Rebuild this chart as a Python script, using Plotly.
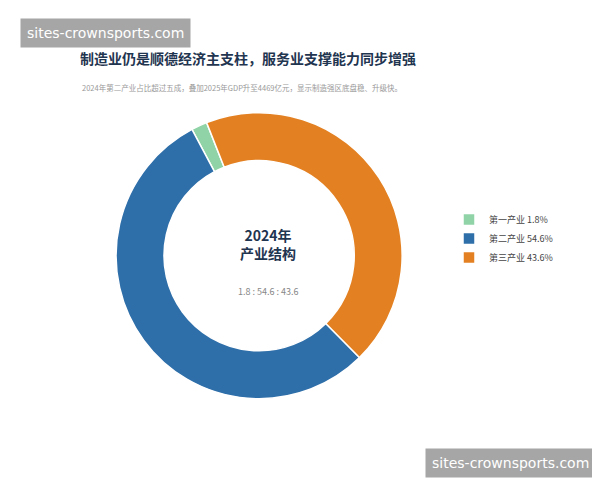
import plotly.graph_objects as go

labels = ["第一产业 1.8%", "第二产业 54.6%", "第三产业 43.6%"]
values = [1.8, 54.6, 43.6]
colors = ["#8fd3a6", "#2e6ea9", "#e38122"]

fig = go.Figure(go.Pie(
    labels=labels, values=values, sort=False, direction="counterclockwise",
    rotation=-28, hole=0.665, textinfo="none", hoverinfo="label",
    marker=dict(colors=colors, line=dict(color="white", width=1.5)),
    domain=dict(x=[0.18, 0.657], y=[0.186, 0.782]),
))
F = "Noto Sans CJK SC"
fig.update_layout(
    width=600, height=480, margin=dict(l=0, r=0, t=0, b=0),
    paper_bgcolor="white", plot_bgcolor="white", font=dict(family=F),
    showlegend=True,
    legend=dict(x=0.735, y=0.52, xanchor="left", yanchor="middle",
                font=dict(size=9, color="#444"), itemwidth=30, tracegroupgap=0),
    annotations=[
        dict(text="<b>制造业仍是顺德经济主支柱，服务业支撑能力同步增强</b>", x=70/600, y=1-50/480,
             xref="paper", yref="paper", xanchor="left", yanchor="middle", showarrow=False,
             font=dict(size=14, color="#1f3550", family=F)),
        dict(text="2024年第二产业占比超过五成，叠加2025年GDP升至4469亿元，显示制造强区底盘稳、升级快。",
             x=72/600, y=1-80/480, xref="paper", yref="paper", xanchor="left", yanchor="middle",
             showarrow=False, font=dict(size=7.5, color="#999", family=F)),
        dict(text="<b>2024年<br>产业结构</b>", x=260/600, y=1-236/480, xref="paper", yref="paper",
             showarrow=False, font=dict(size=14, color="#1f3550", family=F)),
        dict(text="1.8 : 54.6 : 43.6", x=260/600, y=1-283/480, xref="paper", yref="paper",
             showarrow=False, font=dict(size=9, color="#888", family=F)),
        dict(text="sites-crownsports.com", x=12/600, y=1-25/480, xref="paper", yref="paper",
             xanchor="left", yanchor="middle", showarrow=False, bgcolor="#a6a6a6",
             borderpad=6, font=dict(size=14, color="white", family="DejaVu Sans")),
        dict(text="sites-crownsports.com", x=588/600, y=1-455/480, xref="paper", yref="paper",
             xanchor="right", yanchor="middle", showarrow=False, bgcolor="#a6a6a6",
             borderpad=6, font=dict(size=14, color="white", family="DejaVu Sans")),
    ],
)
fig.write_html("out.html")
